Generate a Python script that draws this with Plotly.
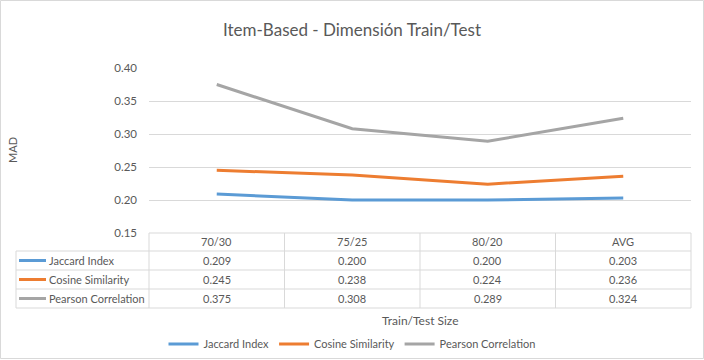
import plotly.graph_objects as go

categories = ["70/30", "75/25", "80/20", "AVG"]
series_names = ["Jaccard Index", "Cosine Similarity", "Pearson Correlation"]
jaccard = [0.209, 0.200, 0.200, 0.203]
cosine = [0.245, 0.238, 0.224, 0.236]
pearson = [0.375, 0.308, 0.289, 0.324]
colors = ["#5B9BD5", "#ED7D31", "#A5A5A5"]
y_ticks = [0.15, 0.20, 0.25, 0.30, 0.35, 0.40]

series_values = [jaccard, cosine, pearson]

W, H = 704, 360
L, R, T, B = 149, 13, 68, 127
PW, PH = W - L - R, H - T - B
FONT = "Lato"
FS = 11
TXT = "#595959"
GRID = "#D9D9D9"


def fx(px):
    return (px - L) / PW


def fy(py):
    return (H - B - py) / PH


fig = go.Figure()
for name, vals, col in zip(series_names, series_values, colors):
    fig.add_trace(go.Scatter(x=categories, y=vals, mode="lines", name=name,
                             line=dict(color=col, width=3)))

shapes = []
annotations = []

# outer border
shapes.append(dict(type="rect", xref="paper", yref="paper",
                   x0=fx(0.5), x1=fx(703.5), y0=fy(0.5), y1=fy(358.5),
                   line=dict(color=GRID, width=1)))

# table geometry
tbl_left = 16
plot_bot = H - B
row_h = 19
hdr_bot = plot_bot + 18
row_bounds = [hdr_bot + i * row_h for i in range(len(series_names) + 1)]
col_w = PW / len(categories)

line_style = dict(color=GRID, width=1)
shapes.append(dict(type="line", xref="paper", yref="paper", x0=0, x1=1,
                   y0=fy(plot_bot), y1=fy(plot_bot), line=line_style))
for yb in row_bounds:
    shapes.append(dict(type="line", xref="paper", yref="paper", x0=fx(tbl_left), x1=1,
                       y0=fy(yb), y1=fy(yb), line=line_style))
shapes.append(dict(type="line", xref="paper", yref="paper", x0=fx(tbl_left), x1=fx(tbl_left),
                   y0=fy(row_bounds[0]), y1=fy(row_bounds[-1]), line=line_style))
for i in range(len(categories) + 1):
    xx = L + i * col_w
    shapes.append(dict(type="line", xref="paper", yref="paper", x0=fx(xx), x1=fx(xx),
                       y0=fy(plot_bot), y1=fy(row_bounds[-1]), line=line_style))


def label(x, y, text, xanchor="center", size=FS, **kw):
    annotations.append(dict(xref="paper", yref="paper", x=x, y=y, text=text,
                            showarrow=False, xanchor=xanchor, yanchor="middle",
                            font=dict(family=FONT, size=size, color=TXT), **kw))


for i, c in enumerate(categories):
    label(fx(L + (i + 0.5) * col_w), fy((plot_bot + hdr_bot) / 2), c)

for r, (name, vals, col) in enumerate(zip(series_names, series_values, colors)):
    yc = (row_bounds[r] + row_bounds[r + 1]) / 2
    shapes.append(dict(type="line", xref="paper", yref="paper", x0=fx(19), x1=fx(46),
                       y0=fy(yc), y1=fy(yc), line=dict(color=col, width=3)))
    label(fx(47), fy(yc), name, xanchor="left")
    for i, v in enumerate(vals):
        label(fx(L + (i + 0.5) * col_w), fy(yc), f"{v:.3f}")

label(0.5, fy(320), "Train/Test Size", size=12)
label(fx(12), fy(150), "MAD", textangle=-90)

fig.update_layout(
    template="none",
    width=W, height=H,
    margin=dict(l=L, r=R, t=T, b=B, pad=0),
    paper_bgcolor="white", plot_bgcolor="white",
    font=dict(family=FONT, size=FS, color=TXT),
    title=dict(text="Item-Based - Dimensión Train/Test", x=0.5, xref="container",
               xanchor="center", y=1 - 30 / H, yref="container", yanchor="middle",
               font=dict(family=FONT, size=17, color=TXT)),
    xaxis=dict(range=[-0.5, len(categories) - 0.5], showticklabels=False, showgrid=False,
               zeroline=False, showline=False, ticks="", automargin=False),
    yaxis=dict(range=[0.15, 0.40], tickvals=y_ticks, ticktext=[f"{t:.2f}" for t in y_ticks],
               showgrid=True, gridcolor=GRID, gridwidth=1, zeroline=False, showline=False,
               ticks="", ticklabelstandoff=11, automargin=False,
               tickfont=dict(family=FONT, size=11.5, color=TXT)),
    showlegend=True,
    legend=dict(orientation="h", x=0.5, xref="container", xanchor="center",
                y=1 - 344 / H, yref="container", yanchor="middle",
                font=dict(family=FONT, size=FS, color=TXT),
                bgcolor="rgba(0,0,0,0)", itemwidth=30),
    shapes=shapes, annotations=annotations,
)

fig.write_html("out.html", config={"displayModeBar": False},
               post_script="document.body.style.margin='0px';document.body.style.overflow='hidden';")
